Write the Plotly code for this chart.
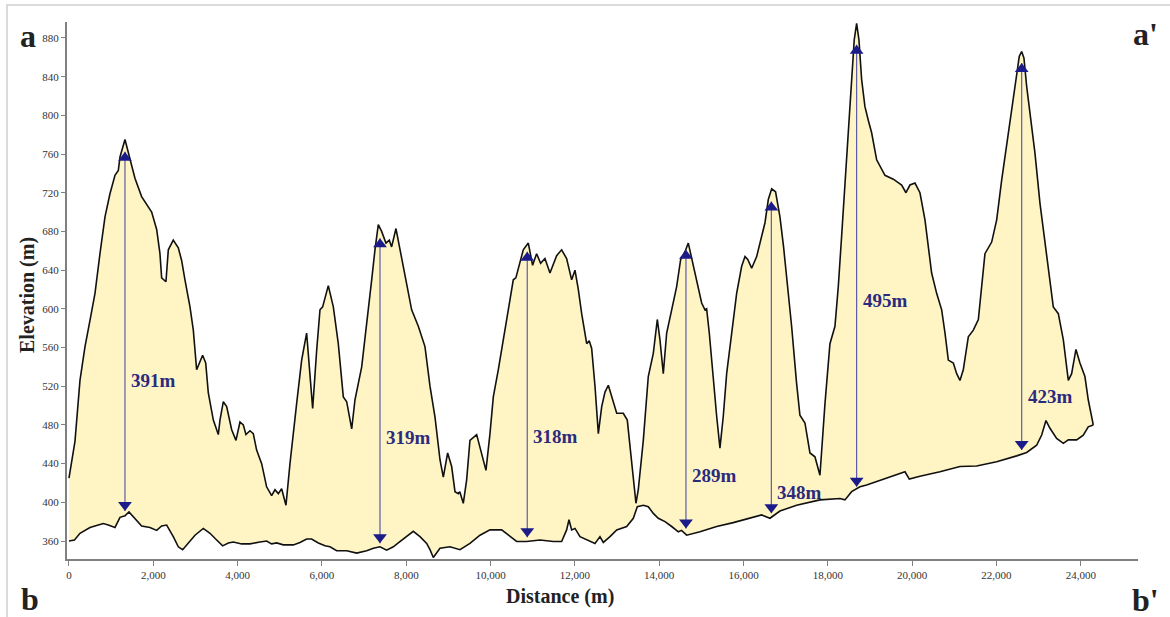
import plotly.graph_objects as go

# ---------------- data ----------------
top_d = [0, 142, 261, 380, 498, 617, 735, 854, 972, 1091, 1170, 1210, 1328, 1447, 1565, 1723, 1961, 2080,
         2158, 2198, 2300, 2356, 2474, 2593, 2672, 2751, 2870, 2949, 3028, 3170, 3243, 3305, 3424, 3542,
         3582, 3661, 3740, 3859, 3961, 4056, 4135, 4198, 4293, 4372, 4451, 4570, 4688, 4807, 4886, 4965,
         5044, 5147, 5242, 5400, 5519, 5637, 5780, 5875, 5954, 6017, 6151, 6270, 6388, 6507, 6587, 6706,
         6784, 6943, 7061, 7180, 7258, 7337, 7416, 7519, 7598, 7653, 7756, 7851, 7970, 8128, 8286, 8444,
         8563, 8682, 8800, 8879, 8982, 9077, 9156, 9234, 9270, 9353, 9432, 9511, 9670, 9789, 9891, 9986,
         10065, 10183, 10302, 10420, 10539, 10600, 10681, 10776, 10895, 10997, 11092, 11187, 11290, 11409,
         11567, 11686, 11804, 11923, 12002, 12081, 12161, 12280, 12340, 12398, 12477, 12556, 12636, 12714,
         12793, 12873, 12992, 13148, 13243, 13307, 13386, 13449, 13504, 13623, 13741, 13860, 13955, 14018,
         14097, 14177, 14296, 14414, 14509, 14611, 14690, 14770, 14889, 15007, 15086, 15125, 15188, 15283,
         15363, 15441, 15520, 15600, 15719, 15837, 15956, 16035, 16100, 16193, 16312, 16391, 16509, 16588,
         16668, 16760, 16864, 16950, 17022, 17141, 17259, 17338, 17457, 17576, 17694, 17813, 17932, 18050,
         18169, 18248, 18327, 18406, 18485, 18564, 18626, 18683, 18738, 18802, 18880, 18959, 19039, 19158,
         19355, 19553, 19751, 19853, 19948, 20067, 20185, 20304, 20383, 20462, 20581, 20700, 20779, 20858,
         20977, 21056, 21134, 21213, 21332, 21451, 21570, 21649, 21727, 21886, 22005, 22123, 22242, 22361,
         22463, 22541, 22598, 22652, 22716, 22795, 22913, 23032, 23190, 23348, 23467, 23586, 23704, 23783,
         23885, 23980, 24098, 24177, 24296]
top_elev = [425, 463, 526, 561, 588, 616, 657, 695, 719, 738, 743, 757, 775, 754, 735, 716, 700, 682,
            657, 632, 628, 661, 671, 663, 650, 630, 602, 578, 537, 552, 544, 513, 485, 470,
            485, 504, 499, 475, 464, 483, 480, 470, 474, 471, 454, 440, 416, 407, 413, 409,
            414, 397, 440, 502, 547, 575, 497, 557, 599, 602, 624, 602, 564, 509, 504, 476,
            506, 540, 582, 630, 661, 687, 680, 668, 671, 664, 683, 661, 633, 599, 582, 561,
            520, 488, 444, 426, 451, 437, 411, 409, 411, 399, 423, 464, 470, 451, 433, 471,
            509, 537, 568, 602, 630, 632, 645, 661, 668, 645, 657, 647, 652, 637,
            655, 661, 652, 630, 640, 620, 595, 564, 567, 559, 520, 471, 499, 514,
            521, 509, 492, 492, 485, 458, 427, 399, 413, 464, 530, 554, 589, 568,
            533, 575, 599, 623, 651, 659, 668, 652, 626, 606, 599, 600, 575, 526,
            489, 456, 489, 533, 578, 616, 644, 654, 651, 642, 654, 668, 689, 713,
            724, 721, 695, 664, 633, 582, 523, 490, 482, 451, 447, 428, 502, 564,
            582, 623, 675, 726, 778, 830, 878, 895, 878, 837, 809, 795, 782, 754,
            738, 734, 728, 720, 728, 730, 720, 692, 664, 637, 616, 599, 575, 547,
            544, 533, 526, 537, 571, 578, 589, 623, 657, 669, 692, 733, 771, 809,
            837, 861, 866, 859, 830, 802, 761, 709, 657, 602, 595, 568, 526, 533,
            558, 544, 530, 506, 480]

bottom_d = [0, 130, 261, 498, 695, 814, 932, 1091, 1210, 1328, 1423, 1565, 1723, 1921, 2080, 2198, 2317,
            2474, 2593, 2696, 2830, 2989, 3186, 3344, 3503, 3645, 3779, 3898, 4096, 4293, 4530, 4688,
            4807, 4926, 5084, 5321, 5479, 5637, 5755, 5915, 6072, 6191, 6349, 6587, 6824, 7061, 7219,
            7377, 7535, 7693, 7811, 8167, 8326, 8484, 8563, 8642, 8800, 9037, 9274, 9511, 9749, 9986,
            10263, 10460, 10618, 10855, 11172, 11488, 11686, 11804, 11860, 11923, 12002, 12121, 12318,
            12477, 12595, 12674, 12833, 12992, 13229, 13386, 13481, 13623, 13741, 13860, 13978, 14137,
            14296, 14454, 14530, 14651, 14967, 15363, 15757, 16153, 16430, 16627, 16864, 17259, 17813,
            18288, 18406, 18564, 18762, 18920, 19158, 19395, 19632, 19830, 19932, 20185, 20659, 21134,
            21530, 22005, 22479, 22716, 22953, 23072, 23174, 23269, 23427, 23586, 23704, 23902, 24059,
            24177, 24296]
bottom_elev = [360, 361, 368, 374, 376.5, 378, 376.5, 374, 384.5, 386, 390, 383, 375.5, 374, 371, 375.5, 376.5,
               364.5, 354, 351, 358, 366, 373, 368, 361, 355, 358, 359, 357, 357, 359, 360,
               357, 358, 356, 356, 358.5, 362, 362, 358, 355, 354, 350, 350, 347.5, 350, 352.5,
               354, 350.5, 354, 358, 370, 364.5, 357.5, 351, 343, 352.5, 354, 351, 357.5, 366, 371.5,
               371.5, 364.5, 359.5, 359.5, 361, 359.5, 359.5, 371.5, 382, 371.5, 373, 364.5, 361,
               357.5, 364.5, 358.5, 364.5, 371.5, 375, 383.5, 395.5, 397, 395.5, 388.5, 383.5, 380,
               375, 369.5, 371, 366, 369.5, 375, 379, 383.5, 387, 383.5, 391, 397, 402.5,
               404, 402.5, 411, 416, 418, 421.5, 425, 428, 431.5, 424, 427, 431.5, 437,
               437.5, 442, 448, 451.5, 459, 469.5, 484.5, 476.5, 466, 461, 464.5, 464.5, 469.5,
               478, 480]

# relief measurements (distance, top tip, bottom tip, label elevation, label)
arrow_d = [1328, 7377, 10870, 14635, 16660, 18683, 22598]
arrow_top = [762.5, 673, 659, 661, 711, 873, 854]
arrow_bottom = [391, 357.6, 364, 373, 388.6, 416, 454]
label_elev = [526, 467, 468, 428, 410, 609, 509]
labels = ["391m", "319m", "318m", "289m", "348m", "495m", "423m"]

x_ticks = list(range(0, 24001, 2000))
y_ticks = list(range(360, 881, 40))

# ---------------- layout geometry ----------------
W, H = 1170, 617
L, R, T, B = 67, 1138, 22, 559
X_RANGE = [-47, 25357]
Y_RANGE = [341.4, 896.5]
m_per_px = (Y_RANGE[1] - Y_RANGE[0]) / (B - T)


def px(xp):
    return (xp - L) / (R - L)


def py(yp):
    return (B - yp) / (B - T)


SERIF = "Liberation Serif, Times New Roman, serif"
NAVY = "#1B1B8A"

fig = go.Figure()

# filled relief band
fig.add_trace(go.Scatter(
    x=top_d + bottom_d[::-1], y=top_elev + bottom_elev[::-1],
    fill="toself", fillcolor="#FFF5C4", mode="lines", line=dict(width=0),
    hoverinfo="skip", showlegend=False))

fig.add_trace(go.Scatter(x=top_d, y=top_elev, mode="lines",
                         line=dict(color="#111111", width=1.6), showlegend=False))
fig.add_trace(go.Scatter(x=bottom_d, y=bottom_elev, mode="lines",
                         line=dict(color="#111111", width=1.6), showlegend=False))

# arrow shafts
ax, ay = [], []
for d, t, b in zip(arrow_d, arrow_top, arrow_bottom):
    ax += [d, d, None]
    ay += [t, b, None]
fig.add_trace(go.Scatter(x=ax, y=ay, mode="lines",
                         line=dict(color="#5B5BA6", width=1.2), showlegend=False))

msize = 12
off = (msize / 2) * m_per_px
fig.add_trace(go.Scatter(x=arrow_d, y=[t - off for t in arrow_top], mode="markers",
                         marker=dict(symbol="triangle-up", size=msize, color=NAVY, line=dict(width=0)),
                         showlegend=False))
fig.add_trace(go.Scatter(x=arrow_d, y=[b + off for b in arrow_bottom], mode="markers",
                         marker=dict(symbol="triangle-down", size=msize, color=NAVY, line=dict(width=0)),
                         showlegend=False))

annotations = []
for d, e, s in zip(arrow_d, label_elev, labels):
    annotations.append(dict(x=d, y=e, xref="x", yref="y", text="<b>%s</b>" % s, showarrow=False,
                            xanchor="left", yanchor="middle", xshift=4,
                            font=dict(family=SERIF, size=19, color="#2B2B7E")))

for s, xp, yp in [("a", 28, 36), ("b", 30, 599), ("a'", 1145, 34), ("b'", 1145, 600)]:
    annotations.append(dict(x=px(xp), y=py(yp), xref="paper", yref="paper", text="<b>%s</b>" % s,
                            showarrow=False, xanchor="center", yanchor="middle",
                            font=dict(family=SERIF, size=32, color="#222222")))

annotations.append(dict(x=px(560), y=py(596), xref="paper", yref="paper", text="<b>Distance (m)</b>",
                        showarrow=False, xanchor="center", yanchor="middle",
                        font=dict(family=SERIF, size=20, color="#222222")))
annotations.append(dict(x=px(27), y=py(295), xref="paper", yref="paper", text="<b>Elevation (m)</b>",
                        showarrow=False, xanchor="center", yanchor="middle", textangle=-90,
                        font=dict(family=SERIF, size=20, color="#222222")))

shapes = [dict(type="rect", xref="paper", yref="paper", x0=px(7), x1=px(1200), y0=py(640), y1=py(5),
               line=dict(color="#CFCFCF", width=1.5), fillcolor="rgba(0,0,0,0)", layer="below")]

fig.update_layout(
    width=W, height=H,
    margin=dict(l=L, r=W - R, t=T, b=H - B, pad=0),
    paper_bgcolor="white", plot_bgcolor="white",
    showlegend=False,
    annotations=annotations,
    shapes=shapes,
    xaxis=dict(range=X_RANGE, tickvals=x_ticks, tickformat=",", showgrid=False, zeroline=False,
               showline=True, linecolor="#808080", linewidth=2, ticks="outside", ticklen=5,
               tickcolor="#808080", tickwidth=1,
               tickfont=dict(family=SERIF, size=11, color="#333333")),
    yaxis=dict(range=Y_RANGE, tickvals=y_ticks, showgrid=False, zeroline=False,
               showline=True, linecolor="#808080", linewidth=2, ticks="outside", ticklen=4,
               tickcolor="#808080", tickwidth=1,
               tickfont=dict(family=SERIF, size=11, color="#333333")),
)

fig.write_html("out.html")
